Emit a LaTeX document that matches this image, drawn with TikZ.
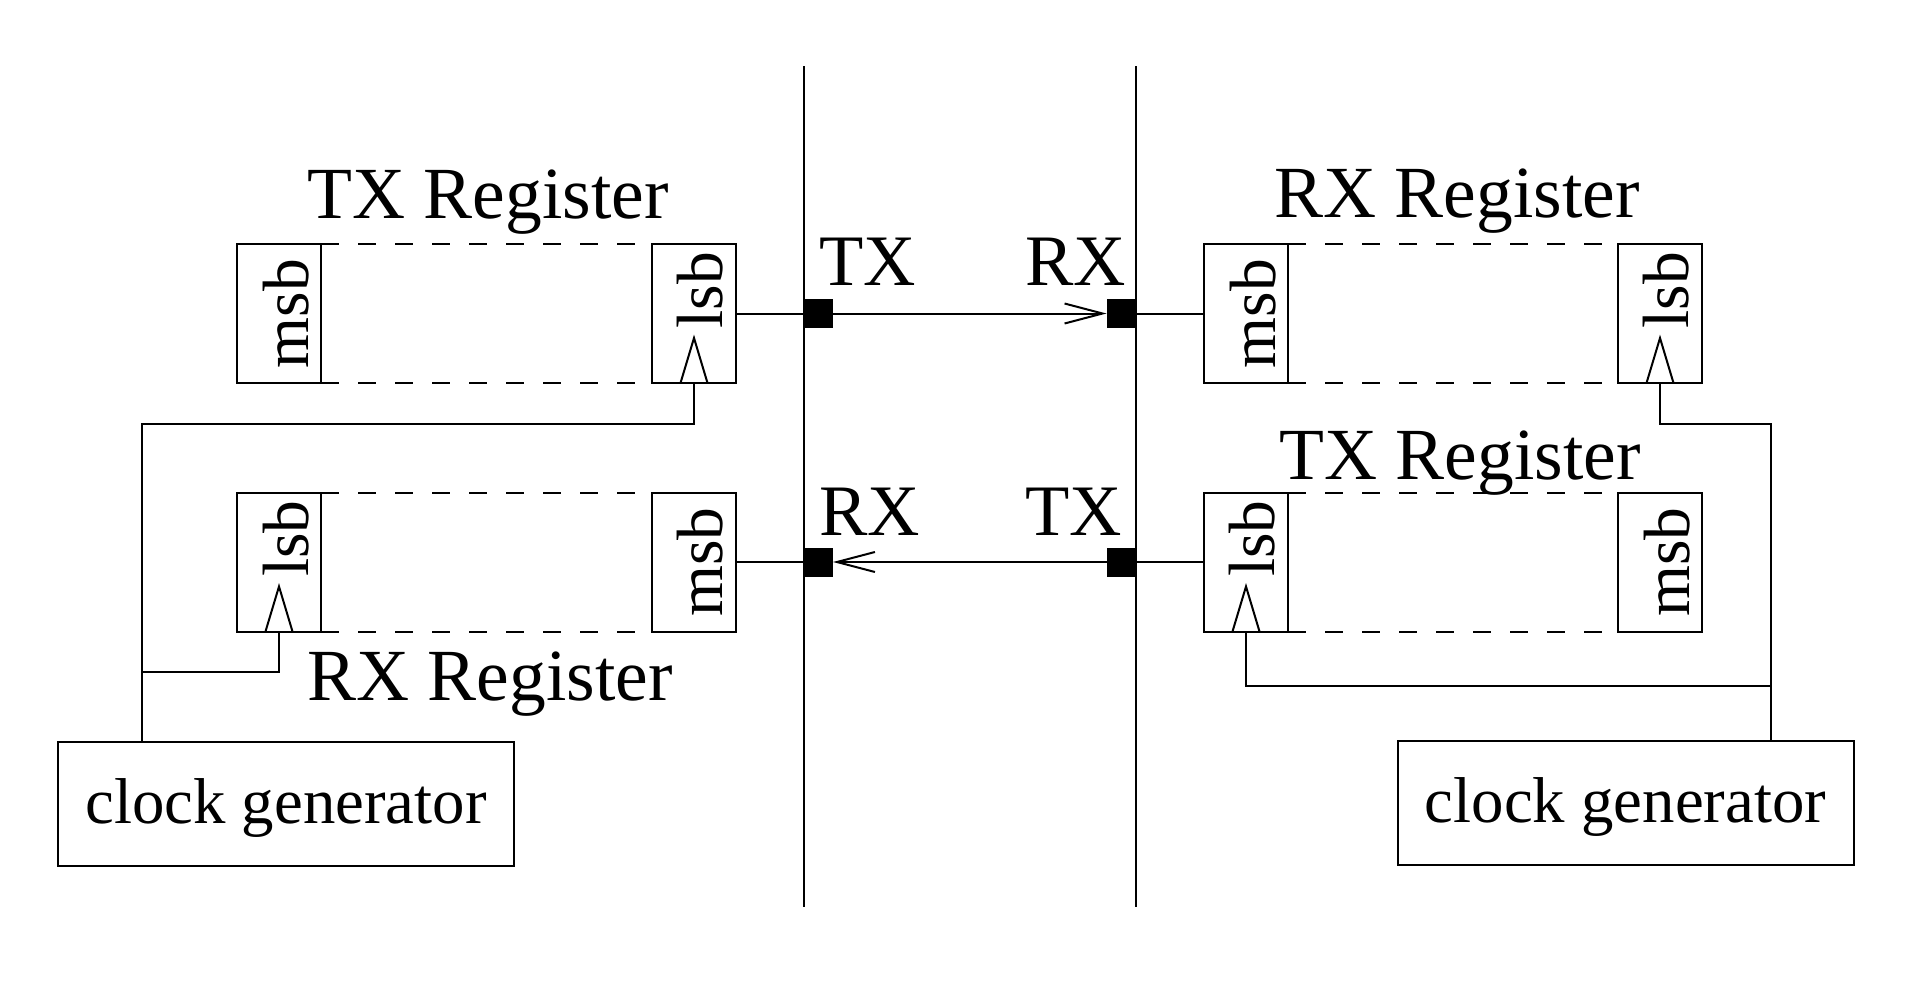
\documentclass[tikz,border=0pt]{standalone}
\usepackage{fontspec}
\setmainfont{Liberation Serif}
\usetikzlibrary{arrows.meta}
\begin{document}
\begin{tikzpicture}[x=1pt,y=-1pt, line width=2pt,
  cell/.style={draw, minimum width=84pt, minimum height=139pt, inner sep=0pt, outer sep=0pt},
  pad/.style={fill=black, draw=none, minimum size=29pt, inner sep=0pt, outer sep=0pt},
  bit/.style={rotate=90, anchor=base, inner sep=0pt, font=\fontsize{65.5}{70}\selectfont},
  reglabel/.style={anchor=base, inner sep=0pt, font=\fontsize{73.5}{80}\selectfont},
  portlabel/.style={inner sep=0pt, font=\fontsize{72.5}{80}\selectfont},
  clockbox/.style={draw, minimum width=456pt, minimum height=124pt, inner sep=0pt, text height=44pt, text depth=5pt, font=\fontsize{64.8}{70}\selectfont},
  dashline/.style={dash pattern=on 18pt off 19pt},
  arrowwire/.style={-{Straight Barb[length=38pt,width=20pt]}}]

\useasboundingbox (0,0) rectangle (1917,993);

% bus lines
\coordinate (busLtop) at (804,66);
\coordinate (busLbot) at (804,907);
\coordinate (busRtop) at (1136,66);
\coordinate (busRbot) at (1136,907);
\draw (busLtop) -- (busLbot);
\draw (busRtop) -- (busRbot);

% register cells
\node[cell] (msbA) at (279,313.5) {};
\node[cell] (lsbA) at (694,313.5) {};
\node[cell] (lsbC) at (279,562) {};
\node[cell] (msbC) at (694,562) {};
\node[cell] (msbB) at (1246,313.5) {};
\node[cell] (lsbB) at (1660,313.5) {};
\node[cell] (lsbD) at (1246,562) {};
\node[cell] (msbD) at (1660,562) {};

% bit texts
\node[bit] (tmsbA) at (308,313.5) {msb};
\node[bit] (tlsbA) at (722,290) {lsb};
\node[bit] (tlsbC) at (308,538.5) {lsb};
\node[bit] (tmsbC) at (722,562) {msb};
\node[bit] (tmsbB) at (1275,313.5) {msb};
\node[bit] (tlsbB) at (1688,290) {lsb};
\node[bit] (tlsbD) at (1274,538.5) {lsb};
\node[bit] (tmsbD) at (1689,562) {msb};

% dashed register bodies
\draw[dashline] (msbA.north east) -- (lsbA.north west);
\draw[dashline] (msbA.south east) -- (lsbA.south west);
\draw[dashline] (lsbC.north east) -- (msbC.north west);
\draw[dashline] (lsbC.south east) -- (msbC.south west);
\draw[dashline] (msbB.north east) -- (lsbB.north west);
\draw[dashline] (msbB.south east) -- (lsbB.south west);
\draw[dashline] (lsbD.north east) -- (msbD.north west);
\draw[dashline] (lsbD.south east) -- (msbD.south west);

% clock triangles
\draw ([xshift=-13.5pt]lsbA.south) -- ++(13.5,-45) -- ++(13.5,45);
\draw ([xshift=-13.5pt]lsbC.south) -- ++(13.5,-45) -- ++(13.5,45);
\draw ([xshift=-13.5pt]lsbB.south) -- ++(13.5,-45) -- ++(13.5,45);
\draw ([xshift=-13.5pt]lsbD.south) -- ++(13.5,-45) -- ++(13.5,45);

% register labels
\node[reglabel] (regTL) at (488,218) {TX Register};
\node[reglabel] (regBL) at (490,700) {RX Register};
\node[reglabel] (regTR) at (1457,217) {RX Register};
\node[reglabel] (regBR) at (1460,479) {TX Register};

% pads
\node[pad] (sqA) at (818.5,313.5) {};
\node[pad] (sqB) at (1121,313.5) {};
\node[pad] (sqC) at (818.5,562) {};
\node[pad] (sqD) at (1121,562) {};

% port labels
\node[portlabel, anchor=base west] (pTXa) at (818,285) {TX};
\node[portlabel, anchor=base east] (pRXa) at (1127,285) {RX};
\node[portlabel, anchor=base west] (pRXb) at (818,535) {RX};
\node[portlabel, anchor=base east] (pTXb) at (1123,535) {TX};

% data wires
\draw (lsbA.east) -- (sqA.west);
\draw[arrowwire] (sqA.east) -- (sqB.west);
\draw (sqB.east) -- (msbB.west);
\draw (msbC.east) -- (sqC.west);
\draw[arrowwire] (sqD.west) -- (sqC.east);
\draw (sqD.east) -- (lsbD.west);

% clock generators
\node[clockbox] (clkL) at (286,803.5) {clock generator};
\node[clockbox] (clkR) at (1625.5,803) {clock generator};

% clock wires
\coordinate (jL) at (142,424);
\coordinate (jL2) at (142,672);
\coordinate (jR) at (1771,424);
\coordinate (jR2) at (1771,686);
\draw (lsbA.south) |- (jL) -- (jL |- clkL.north);
\draw (lsbC.south) |- (jL2);
\draw (lsbB.south) |- (jR) -- (jR |- clkR.north);
\draw (lsbD.south) |- (jR2);
\end{tikzpicture}
\end{document}
